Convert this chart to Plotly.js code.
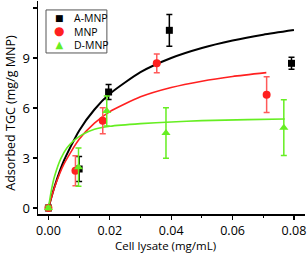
<!DOCTYPE html>
<html><head><meta charset="utf-8">
<script src="https://cdn.plot.ly/plotly-3.0.1.min.js"></script>
<style>html,body{margin:0;padding:0;background:#fff}#c{width:307px;height:254px}</style>
</head><body><div id="c"></div>
<script>
// Measured points
const aX = [0, 0.010, 0.0196, 0.0394, 0.0792];
const aY = [0, 2.34, 6.96, 10.66, 8.68];
const aErr = [0.1, 0.75, 0.45, 0.95, 0.36];
const mX = [0, 0.0088, 0.0177, 0.0353, 0.0711];
const mY = [0, 2.24, 5.24, 8.68, 6.80];
const mErr = [0.1, 0.9, 0.78, 0.56, 1.07];
const dX = [0, 0.0098, 0.0190, 0.0383, 0.0767];
const dY = [0, 2.45, 5.82, 4.50, 4.82];
const dErr = [0.1, 1.15, 0.9, 1.52, 1.67];
// Fitted curves
const aFitX = [0, 0.002, 0.005, 0.01, 0.015, 0.02, 0.03, 0.04, 0.05, 0.06, 0.07, 0.08];
const aFitY = [0, 1.29, 2.82, 4.64, 5.91, 6.85, 8.15, 9.00, 9.60, 10.05, 10.40, 10.68];
const mFitX = [0, 0.002, 0.005, 0.01, 0.015, 0.02, 0.03, 0.04, 0.05, 0.06, 0.071];
const mFitY = [0, 1.25, 2.62, 4.12, 5.09, 5.78, 6.67, 7.23, 7.61, 7.89, 8.12];
const dFitX = [0, 0.001, 0.002, 0.004, 0.006, 0.008, 0.011, 0.015, 0.02, 0.03, 0.04, 0.05, 0.065, 0.077];
const dFitY = [0, 1.1, 1.9, 2.95, 3.6, 4.0, 4.4, 4.72, 4.9, 5.06, 5.16, 5.24, 5.3, 5.34];
const xTicks = [0, 0.02, 0.04, 0.06, 0.08];
const xTickText = ['0.00', '0.02', '0.04', '0.06', '0.08'];
const yTicks = [0, 3, 6, 9, 12];
const seriesNames = ['A-MNP', 'MNP', 'D-MNP'];
const legendGlyphs = ['\u25A0', '\u25CF', '\u25B2'];
const xTitle = 'Cell lysate (mg/mL)';
const yTitle = 'Adsorbed TGC (mg/g MNP)';

const BLACK = '#000000', RED = '#ff2020', REDERR = '#ff5a5a', GREEN = '#66ee22';
const seriesColors = [BLACK, RED, GREEN];
const glyphSizes = [9, 12, 10];
const font = 'Liberation Sans Narrow, Open Sans, sans-serif';
const tfont = 'Open Sans, Liberation Sans, sans-serif';

function fit(x, y, c, w) {
  return {x: x, y: y, mode: 'lines', line: {color: c, width: w, shape: 'spline', smoothing: 0.6},
          showlegend: false, hoverinfo: 'skip'};
}
function pts(x, y, e, name, sym, c, ec, sz) {
  return {x: x, y: y, name: name, mode: 'markers', showlegend: false,
          marker: {symbol: sym, color: c, size: sz},
          error_y: {type: 'data', array: e, visible: true, color: ec, thickness: 1.5, width: 3}};
}
const data = [
  fit(aFitX, aFitY, BLACK, 2),
  fit(mFitX, mFitY, RED, 1.6),
  fit(dFitX, dFitY, GREEN, 1.6),
  pts(aX, aY, aErr, seriesNames[0], 'square', BLACK, BLACK, 7),
  pts(mX, mY, mErr, seriesNames[1], 'circle', RED, REDERR, 8),
  pts(dX, dY, dErr, seriesNames[2], 'triangle-up', GREEN, GREEN, 8)
];
// custom legend (one text block for names, one for glyphs)
const glyphText = legendGlyphs.map((g, i) =>
  '<span style="color:' + seriesColors[i] + ';font-size:' + glyphSizes[i] + 'px">' + g + '</span>').join('<br>');
const annotations = [
  {xref: 'paper', yref: 'paper', x: 0.079, y: 0.857, text: glyphText, showarrow: false,
   xanchor: 'center', yanchor: 'middle', align: 'center',
   font: {size: 10.5, family: 'DejaVu Sans', color: '#000'}},
  {xref: 'paper', yref: 'paper', x: 0.128, y: 0.857, text: seriesNames.join('<br>'), showarrow: false,
   xanchor: 'left', yanchor: 'middle', align: 'left',
   font: {size: 10.5, family: tfont, color: '#000'}},
  // axis titles
  {xref: 'paper', yref: 'paper', x: 0.476, y: -0.1875, text: xTitle, showarrow: false, borderpad: 0,
   xanchor: 'center', yanchor: 'bottom', font: {size: 11.5, family: tfont, color: '#000'}},
  {xref: 'paper', yref: 'paper', x: -0.103, y: 0.478, text: yTitle, showarrow: false, textangle: -90,
   xanchor: 'center', yanchor: 'middle', font: {size: 12.5, family: tfont, color: '#000'}}
];
const layout = {
  width: 307, height: 254,
  margin: {l: 38, r: 2, t: 1, b: 40},
  paper_bgcolor: '#fff', plot_bgcolor: '#fff',
  font: {family: tfont, size: 11, color: '#000'},
  xaxis: {
    range: [-0.0034, 0.0836], tickvals: xTicks, ticktext: xTickText,
    showgrid: false, zeroline: false, showline: true, linecolor: '#000', linewidth: 1.5,
    ticks: 'outside', ticklen: 4, tickwidth: 1.2, tickcolor: '#000',
    minor: {dtick: 0.01, tick0: 0, ticks: 'outside', ticklen: 2.5, tickcolor: '#000', tickwidth: 1},
    tickfont: {size: 12.5, family: font}
  },
  yaxis: {
    range: [-0.36, 12.42], tickvals: yTicks,
    showgrid: false, zeroline: false, showline: true, linecolor: '#000', linewidth: 1.5,
    ticks: 'outside', ticklen: 4, tickwidth: 1.2, tickcolor: '#000',
    tickfont: {size: 13, family: font}
  },
  showlegend: false,
  shapes: [{type: 'rect', xref: 'paper', yref: 'paper', x0: 0.030, x1: 0.258, y0: 0.756, y1: 0.958,
            line: {color: '#555', width: 1}, fillcolor: 'rgba(0,0,0,0)'}],
  annotations: annotations
};
Plotly.newPlot('c', data, layout, {staticPlot: true, displayModeBar: false});
</script></body></html>
